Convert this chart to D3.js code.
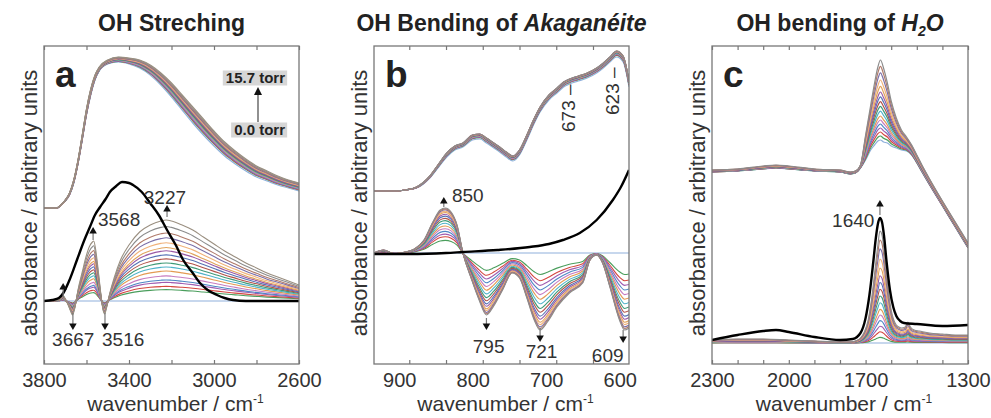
<!DOCTYPE html>
<html><head><meta charset="utf-8">
<script src="https://cdn.jsdelivr.net/npm/d3@7"></script>
<style>body{margin:0;background:#fff;}svg{display:block;font-family:"Liberation Sans",Arial,Helvetica,sans-serif;}</style>
</head><body><svg id="chart" width="991" height="418"></svg>
<script>
// ================= DATA =================
// Panel a: OH stretching
const aWave    = [3800,3740,3720,3700,3680,3660,3640,3620,3600,3580,3560,3540,3500,3450,3400,3350,3300,3250,3200,3150,3100,3050,3000,2950,2900,2850,2800,2750,2700,2650,2600];
const aRawLow  = [1.56,1.56,1.59,1.63,1.69,1.81,2.00,2.24,2.49,2.69,2.84,2.93,3.00,3.02,3.00,2.96,2.89,2.79,2.67,2.54,2.41,2.29,2.18,2.08,2.00,1.93,1.87,1.83,1.79,1.76,1.73];
const aRawRise = [0,0,0,.01,.02,.03,.04,.05,.06,.06,.05,.04,.04,.05,.06,.08,.10,.12,.14,.15,.16,.16,.15,.14,.13,.12,.11,.10,.09,.08,.08];
const aDiffWave = [3800,3730,3712,3700,3688,3675,3666,3655,3640,3620,3600,3585,3572,3566,3558,3545,3532,3522,3515,3505,3490,3470,3440,3400,3350,3300,3250,3225,3200,3150,3100,3050,3000,2950,2900,2850,2800,2750,2700,2650,2600];
const aDiffMax  = [0,.01,.06,.02,-.03,-.10,-.14,-.07,.11,.29,.46,.55,.59,.60,.53,.31,.06,-.09,-.13,-.06,.08,.23,.41,.56,.69,.76,.80,.81,.80,.76,.71,.64,.57,.50,.44,.38,.33,.28,.24,.20,.16];
const aLevels   = [0.14,0.18,0.23,0.26,0.31,0.37,0.42,0.47,0.52,0.57,0.62,0.66,0.72,0.78,0.84,0.92,1.0];
const aDiffZero = 0.63;
const aBlackWave = [3800,3760,3730,3709,3680,3645,3610,3584,3560,3536,3510,3490,3460,3433,3400,3381,3340,3301,3260,3221,3180,3145,3100,3066,3030,2986,2950,2910,2850,2600];
const aBlack     = [0,.01,.03,.08,.21,.41,.61,.74,.86,.94,1.02,1.09,1.15,1.19,1.18,1.16,1.09,.98,.86,.71,.56,.41,.28,.18,.11,.06,.03,.01,0,0];

// Panel b: OH bending of Akaganeite
const bWave    = [948,920,905,890,872,860,849,838,827,814,804,795,785,777,768,759,750,740,731,722,710,699,690,682,670,658,645,636,627,618,609,601];
const bRawLow  = [1.73,1.73,1.74,1.76,1.86,1.97,2.07,2.14,2.17,2.24,2.25,2.21,2.16,2.12,2.07,2.03,2.09,2.24,2.39,2.52,2.64,2.71,2.77,2.80,2.83,2.86,2.91,2.96,3.02,3.07,3.02,2.77];
const bRawRise = [0,0,0,.01,.02,.03,.04,.04,.04,.05,.05,.05,.05,.05,.05,.05,.05,.05,.05,.05,.05,.05,.05,.05,.05,.05,.05,.05,.05,.06,.06,.06];
const bDiffWave = [948,935,920,905,893,880,868,858,851,843,835,827,815,805,795,785,773,760,750,740,730,722,712,699,682,664,654,645,637,627,614,607,601];
const bDiffMax  = [0,.03,-.01,.01,.04,.13,.31,.43,.45,.41,.28,0,-.27,-.47,-.62,-.53,-.37,-.20,-.25,-.45,-.67,-.77,-.69,-.54,-.40,-.30,-.07,-.02,-.10,-.34,-.67,-.77,-.75];
const bLevels   = [0.28,0.36,0.42,0.48,0.54,0.6,0.66,0.72,0.77,0.82,0.86,0.9,0.93,0.96,0.98,1.0];
const bDiffZero = 1.11;
const bBlackWave = [948,900,850,827,780,736,710,691,668,645,623,612,601];
const bBlack     = [1.10,1.10,1.11,1.12,1.14,1.17,1.20,1.24,1.31,1.44,1.64,1.77,1.94];

// Panel c: OH bending of H2O
const cWave    = [2300,2200,2100,2050,2000,1900,1800,1760,1740,1720,1700,1680,1665,1652,1642,1630,1615,1600,1580,1560,1540,1520,1500,1480,1450,1400,1350,1300];
const cRawLow  = [1.92,1.93,1.95,1.96,1.95,1.93,1.92,1.90,1.91,1.96,2.04,2.14,2.19,2.23,2.24,2.22,2.21,2.18,2.16,2.14,2.13,2.09,2.01,1.92,1.79,1.58,1.37,1.16];
const cRawRise = [.02,.02,.03,.03,.03,.02,.02,.02,.02,.03,.25,.45,.62,.74,.80,.74,.60,.45,.30,.20,.14,.10,.08,.07,.06,.05,.05,.05];
const cDiffWave = [2300,2200,2100,2000,1900,1800,1760,1740,1720,1705,1690,1680,1670,1660,1652,1644,1636,1628,1620,1610,1600,1590,1580,1570,1560,1545,1535,1525,1510,1490,1450,1400,1350,1300];
const cDiffMax  = [.03,.04,.04,.03,.02,.01,.01,.02,.05,.11,.23,.38,.58,.81,.98,1.12,1.08,.93,.73,.50,.33,.23,.18,.16,.15,.16,.21,.16,.13,.12,.10,.09,.08,.08];
const cLevels   = [0.05,0.1,0.15,0.2,0.25,0.3,0.36,0.42,0.48,0.54,0.6,0.67,0.75,0.84,0.92,1.0];
const cDiffZero = 0.21;
const cBlackWave = [2300,2200,2100,2050,2000,1900,1800,1750,1720,1700,1685,1670,1660,1652,1644,1636,1628,1618,1605,1592,1580,1565,1550,1500,1400,1300];
const cBlack     = [.03,.08,.12,.13,.11,.06,.03,.04,.10,.25,.48,.81,1.05,1.19,1.25,1.21,1.07,.81,.53,.36,.27,.22,.20,.19,.17,.18];

// tick labels
const aTicks = [3800,3400,3000,2600];
const bTicks = [900,800,700,600];
const cTicks = [2300,2000,1700,1300];
const legendLabels = ["15.7 torr","0.0 torr"];

// annotations (wavenumber, absorbance)
const aArrows = [{wn:3710,from:.66,to:.81},{wn:3569,from:1.24,to:1.37},{wn:3221,from:1.47,to:1.59},{wn:3664,from:.51,to:.34},{wn:3513,from:.51,to:.34}];
const aLabels = [{t:"3568",wn:3546,v:1.38,a:"start"},{t:"3227",wn:3231,v:1.60,a:"middle"},{t:"3667",wn:3762,v:.18,a:"start"},{t:"3516",wn:3527,v:.18,a:"start"}];
const bArrows = [{wn:853,from:1.57,to:1.67},{wn:795,from:.46,to:.34},{wn:722,from:.36,to:.22},{wn:609,from:.34,to:.21}];
const bLabels = [{t:"850",wn:842,v:1.62,a:"start"},{t:"795",wn:792,v:.11,a:"middle"},{t:"721",wn:720,v:.06,a:"middle"},{t:"609",wn:630,v:.02,a:"middle"}];
const bVLabels = [{t:"673 \u2013",wn:675,v:2.32},{t:"623 \u2013",wn:615,v:2.49}];
const cArrows = [{wn:1644,from:1.49,to:1.64}];
const cLabels = [{t:"1640",wn:1831,v:1.37,a:"start"}];

// ================= DRAWING =================
const palette = ['#4a9e5c','#d4473f','#a05cb0','#4f87c5','#c77cc0','#e39a53','#4fb3c9','#3f9a77','#b2534a','#5672b5','#9a5aa6','#e0a35c','#f0b27a','#7b6fa8','#b07a6a','#8c8c8c','#9a8f80'];
const zeroColor = '#8fb0dc';
const svg = d3.select('#chart');
const TOP = 46, BOT = 364;
const yDomain = [0, 3.18];

function panel(cfg){
  const x = d3.scaleLinear().domain(cfg.domain).range([cfg.left, cfg.right]);
  const y = d3.scaleLinear().domain(yDomain).range([BOT, TOP]);
  const g = svg.append('g');
  const clipId = 'clip' + cfg.key;
  svg.append('clipPath').attr('id', clipId).append('rect')
    .attr('x', cfg.left).attr('y', TOP).attr('width', cfg.right-cfg.left).attr('height', BOT-TOP);
  const plot = g.append('g').attr('clip-path', `url(#${clipId})`);
  const mk = (xs) => d3.line().x((d,i)=>x(xs[i])).y(d=>y(d)).curve(d3.curveMonotoneX);

  // raw spectra (top group)
  const rawLevels = [0].concat(cfg.levels);
  rawLevels.forEach((L,k)=>{
    const vals = cfg.rawLow.map((v,i)=>v + L*cfg.rawRise[i]);
    plot.append('path').attr('d', mk(cfg.wave)(vals)).attr('fill','none')
      .attr('stroke', k===0 ? zeroColor : palette[(k-1)%palette.length]).attr('stroke-width',1.2);
  });
  // zero-pressure difference (flat)
  plot.append('path').attr('d', mk(cfg.diffWave)(cfg.diffWave.map(()=>cfg.diffZero)))
    .attr('fill','none').attr('stroke',zeroColor).attr('stroke-width',1.2);
  // difference spectra
  cfg.levels.forEach((L,k)=>{
    const vals = cfg.diffMax.map(v=>cfg.diffZero + L*v);
    plot.append('path').attr('d', mk(cfg.diffWave)(vals)).attr('fill','none')
      .attr('stroke', palette[k%palette.length]).attr('stroke-width',1.1);
  });
  // black reference
  const bvals = cfg.blackAbs ? cfg.black : cfg.black.map(v=>cfg.diffZero+v);
  plot.append('path').attr('d', mk(cfg.blackWave)(bvals)).attr('fill','none')
    .attr('stroke','#000').attr('stroke-width',2.4);

  // frame
  g.append('rect').attr('x',cfg.left).attr('y',TOP).attr('width',cfg.right-cfg.left).attr('height',BOT-TOP)
    .attr('fill','none').attr('stroke','#777').attr('stroke-width',1.3);
  // minor ticks (inward, top & bottom)
  const minorAxisB = d3.axisBottom(x).tickValues(cfg.minor).tickSize(-4).tickFormat('');
  const minorAxisT = d3.axisTop(x).tickValues(cfg.minor).tickSize(-4).tickFormat('');
  [g.append('g').attr('transform',`translate(0,${BOT})`).call(minorAxisB),
   g.append('g').attr('transform',`translate(0,${TOP})`).call(minorAxisT)].forEach(a=>{
     a.select('.domain').remove(); a.selectAll('line').attr('stroke','#777').attr('stroke-width',1.2);
   });
  // tick labels
  const lab = g.append('g').attr('transform',`translate(${cfg.labelShift||0},${BOT})`)
    .call(d3.axisBottom(x).tickValues(cfg.ticks).tickSize(0).tickPadding(9).tickFormat(d3.format('d')));
  lab.select('.domain').remove();
  lab.selectAll('text').attr('font-size',20).attr('fill','#333').attr('font-family','"Liberation Sans",Arial,sans-serif');

  // x label
  const cx = (cfg.left+cfg.right)/2;
  const xl = g.append('text').attr('x',cx+4).attr('y',411).attr('text-anchor','middle').attr('font-size',21).attr('fill','#333');
  xl.append('tspan').text('wavenumber / cm');
  xl.append('tspan').attr('dy',-8).attr('font-size',12).text('-1');
  // y label
  g.append('text').attr('transform',`translate(${cfg.left-7},203) rotate(-90)`).attr('text-anchor','middle')
    .attr('font-size',22).attr('fill','#333').text('absorbance / arbitrary units');
  // title
  const tt = g.append('text').attr('x',cx).attr('y',31).attr('text-anchor','middle').attr('font-size',23)
    .attr('font-weight','bold').attr('fill','#222');
  cfg.title.forEach(p=>{
    const s = tt.append('tspan').text(p.t);
    if(p.i) s.attr('font-style','italic');
    if(p.sub) s.attr('font-size',14).attr('dy',5);
    if(p.up) s.attr('dy',-5);
  });
  // panel letter
  g.append('text').attr('x',cfg.left+11).attr('y',87).attr('font-size',37).attr('font-weight','bold')
    .attr('fill','#222').text(cfg.key);

  // annotations
  cfg.arrows.forEach(a=>{
    const px = x(a.wn), y0 = y(a.from), y1 = y(a.to);
    const dir = y1 < y0 ? -1 : 1;
    g.append('line').attr('x1',px).attr('x2',px).attr('y1',y0).attr('y2',y1 - dir*5)
      .attr('stroke','#777').attr('stroke-width',1.2);
    g.append('path').attr('d',`M${px},${y1} L${px-3.8},${y1-dir*6.5} L${px+3.8},${y1-dir*6.5} Z`).attr('fill','#111');
  });
  cfg.labels.forEach(l=>{
    g.append('text').attr('x',x(l.wn)).attr('y',y(l.v)).attr('text-anchor',l.a)
      .attr('font-size',19).attr('fill','#333').text(l.t);
  });
  (cfg.vlabels||[]).forEach(l=>{
    g.append('text').attr('transform',`translate(${x(l.wn)},${y(l.v)}) rotate(-90)`)
      .attr('font-size',19).attr('fill','#333').text(l.t);
  });
  return {x,y,g};
}

const pa = panel({key:'a', left:44, right:299, domain:[3800,2600], ticks:aTicks, minor:d3.range(3800,2599,-200),
  wave:aWave, rawLow:aRawLow, rawRise:aRawRise, diffWave:aDiffWave, diffMax:aDiffMax, levels:aLevels,
  diffZero:aDiffZero, blackWave:aBlackWave, black:aBlack, arrows:aArrows, labels:aLabels,
  title:[{t:'OH Streching'}]});
const pb = panel({key:'b', left:374, right:629, domain:[948,601], ticks:bTicks, minor:d3.range(900,601,-50), labelShift:-10,
  wave:bWave, rawLow:bRawLow, rawRise:bRawRise, diffWave:bDiffWave, diffMax:bDiffMax, levels:bLevels,
  diffZero:bDiffZero, blackWave:bBlackWave, black:bBlack, blackAbs:true, arrows:bArrows, labels:bLabels, vlabels:bVLabels,
  title:[{t:'OH Bending of '},{t:'Akagan\u00e9ite',i:true}]});
const pc = panel({key:'c', left:712, right:968, domain:[2300,1300], ticks:cTicks, minor:d3.range(2300,1299,-100),
  wave:cWave, rawLow:cRawLow, rawRise:cRawRise, diffWave:cDiffWave, diffMax:cDiffMax, levels:cLevels,
  diffZero:cDiffZero, blackWave:cBlackWave, black:cBlack, arrows:cArrows, labels:cLabels,
  title:[{t:'OH bending of '},{t:'H',i:true},{t:'2',i:true,sub:true},{t:'O',i:true,up:true}]});

// legend in panel a (pressure arrow)
const lg = pa.g.append('g');
const boxes = [{t:legendLabels[0], cy:78},{t:legendLabels[1], cy:130}];
boxes.forEach(b=>{
  const tx = lg.append('text').attr('x',285).attr('y',b.cy+5).attr('text-anchor','end')
    .attr('font-size',15).attr('font-weight','bold').attr('fill','#222').text(b.t);
  const bb = tx.node().getBBox();
  lg.insert('rect','text').attr('x',bb.x-3).attr('y',b.cy-7.5).attr('width',bb.width+5).attr('height',15).attr('fill','#d6d6d6');
});
lg.append('line').attr('x1',258).attr('x2',258).attr('y1',122).attr('y2',93).attr('stroke','#555').attr('stroke-width',1.3);
lg.append('path').attr('d','M258,87 L254,95 L262,95 Z').attr('fill','#111');
</script></body></html>
